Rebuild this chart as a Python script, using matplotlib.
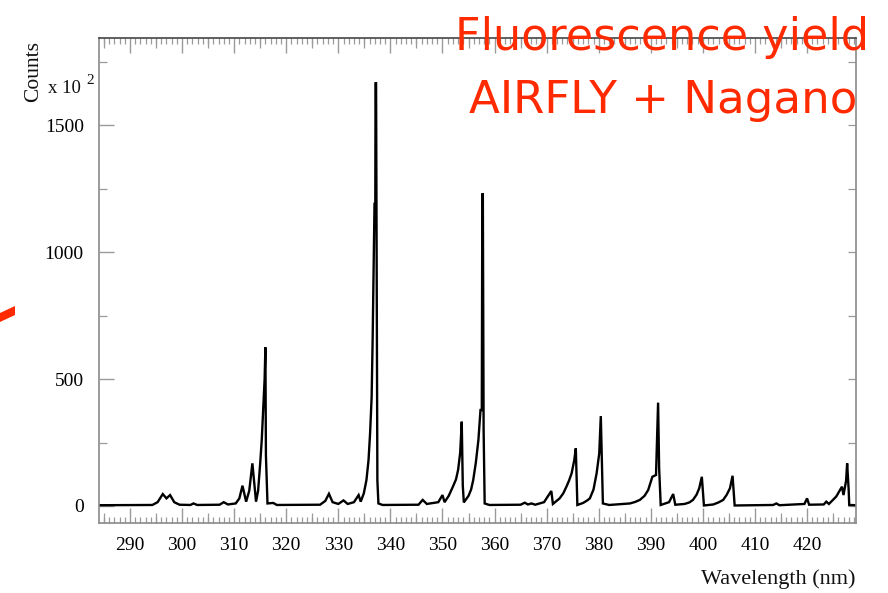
import matplotlib
matplotlib.use("Agg")
import matplotlib.pyplot as plt
from matplotlib.ticker import MultipleLocator, FixedLocator
from matplotlib.patches import Polygon

# Nitrogen fluorescence spectrum (counts in units of 100)
wavelength_nm = [
    284.0, 294.3, 295.3, 296.3, 297.0, 297.7, 298.5, 299.5, 301.6, 302.2, 302.9,
    307.2, 308.0, 308.8, 310.3, 311.0, 311.6, 312.3, 312.9, 313.5, 314.2, 314.6,
    315.0, 315.3, 315.6, 315.85, 316.0, 316.1, 316.4, 317.5, 318.2,
    326.5, 327.5, 328.2, 328.9, 330.0, 331.0, 331.8, 333.0, 333.9, 334.3, 334.9,
    335.4, 335.8, 336.1, 336.4, 336.6, 336.95, 337.1, 337.15, 337.25, 337.5, 337.7, 338.5,
    345.4, 346.2, 347.0, 349.2, 350.0, 350.4, 351.2, 352.0, 352.6, 353.0, 353.4, 353.7,
    353.9, 354.1, 355.0, 355.5, 355.9, 356.4, 356.9, 357.3, 357.55, 357.65, 357.75,
    357.9, 358.1, 359.0,
    365.0, 365.8, 366.4, 367.1, 367.8, 369.5, 370.9, 371.2, 372.5, 373.2, 373.8, 374.3,
    374.8, 375.3, 375.6, 375.9, 377.0, 377.8, 378.3, 379.0, 379.6, 380.1, 380.4, 380.8, 382.0,
    386.0, 387.0, 387.9, 388.8, 389.5, 390.0, 390.3, 391.0, 391.4, 391.6, 391.9,
    393.5, 394.3, 394.7,
    396.5, 397.4, 398.1, 398.8, 399.3, 399.8, 400.2,
    402.0, 403.0, 403.9, 404.6, 405.2, 405.7, 406.1,
    413.5, 414.1, 414.7, 419.5, 420.0, 420.4, 423.2, 423.7, 424.2, 425.6, 426.7,
    427.0, 427.5, 427.7, 428.0, 428.1, 429.4,
]
counts_x100 = [
    3, 4, 15, 47, 30, 43, 15, 5, 4, 10, 4,
    5, 15, 6, 10, 30, 80, 17, 60, 168, 17, 60,
    168, 260, 391, 500, 625, 200, 10, 12, 4,
    5, 20, 48, 15, 8, 22, 8, 15, 43, 17, 50,
    102, 180, 286, 430, 667, 1190, 1190, 1665, 1665, 100, 10, 4,
    5, 24, 8, 15, 43, 15, 40, 76, 105, 142, 210, 332,
    80, 14, 40, 65, 102, 170, 260, 378, 378, 1228, 1228,
    300, 10, 4,
    5, 13, 6, 10, 5, 15, 59, 8, 30, 50, 76, 100,
    129, 180, 227, 4, 12, 22, 30, 65, 129, 207, 354, 10, 4,
    10, 16, 24, 40, 63, 95, 115, 122, 407, 150, 4,
    15, 47, 5,
    8, 14, 24, 45, 70, 115, 2,
    6, 14, 24, 45, 70, 119, 2,
    4, 10, 3, 8, 30, 5, 6, 17, 8, 37, 76,
    43, 100, 168, 60, 4, 3,
]

x_major = list(range(290, 430, 10))
y_major = [0, 500, 1000, 1500]
y_minor = [250, 750, 1250, 1750]

title_lines = ["Fluorescence yield", "AIRFLY + Nagano"]
red = "#ff2a00"
serif = ["Liberation Serif", "DejaVu Serif"]

W, H = 888, 593
fig = plt.figure(figsize=(W / 100, H / 100), dpi=100)
fig.patch.set_facecolor("white")

ax_l, ax_r, ax_t, ax_b = 99, 856, 38, 523
ax = fig.add_axes([ax_l / W, 1 - ax_b / H, (ax_r - ax_l) / W, (ax_b - ax_t) / H])

ax.plot(wavelength_nm, counts_x100, color="black", lw=1.7, solid_joinstyle="miter")
ax.set_xlim(284.05, 429.4)
ax.set_ylim(-67, 1843)

for side in ["left", "bottom", "right"]:
    ax.spines[side].set_color("#8a8a8a")
    ax.spines[side].set_linewidth(1.2)
ax.spines["top"].set_color("#444444")
ax.spines["top"].set_linewidth(1.2)

# x ticks: majors every 10 nm, mid ticks at 5 nm, minors every 1 nm
ax.xaxis.set_major_locator(FixedLocator(x_major))
ax.xaxis.set_minor_locator(MultipleLocator(1))
ax.tick_params(axis="x", which="major", direction="in", length=11, width=1.0,
               color="#9a9a9a", top=True, bottom=True, pad=10,
               labelsize=14)
ax.tick_params(axis="x", which="minor", direction="in", length=4.5, width=0.9,
               color="#9a9a9a", top=True, bottom=True)
for lbl in ax.get_xticklabels():
    lbl.set_fontfamily(serif)

mid_ticks = [v + 5 for v in x_major if v + 5 < 429.4] + [285]
mid = ax.secondary_xaxis("bottom")
mid.set_xticks(mid_ticks)
mid.tick_params(direction="in", length=7, width=0.9, color="#9a9a9a", labelbottom=False)
mid.spines["bottom"].set_visible(False)
midt = ax.secondary_xaxis("top")
midt.set_xticks(mid_ticks)
midt.tick_params(direction="in", length=7, width=0.9, color="#9a9a9a", labeltop=False)
midt.spines["top"].set_visible(False)

# y ticks
ax.yaxis.set_major_locator(FixedLocator(y_major))
ax.yaxis.set_minor_locator(FixedLocator(y_minor))
ax.tick_params(axis="y", which="major", direction="in", length=11, width=1.0,
               color="#9a9a9a", left=True, right=False, pad=11, labelsize=14)
ax.tick_params(axis="y", which="minor", direction="in", length=5.5, width=0.9,
               color="#9a9a9a", left=True, right=False)
for lbl in ax.get_yticklabels():
    lbl.set_fontfamily(serif)

ry = ax.secondary_yaxis("right")
ry.set_yticks(y_major + y_minor)
ry.tick_params(direction="in", length=6, width=0.9, color="#9a9a9a", labelright=False)
ry.spines["right"].set_visible(False)

# axis titles
fig.text(34 / W, 1 - 71 / H, "Counts", rotation=90, ha="center", va="center",
         fontsize=15.5, family=serif, color="#111111")
fig.text(48 / W, 1 - 93 / H, "x 10", ha="left", va="baseline",
         fontsize=13.5, family=serif, color="#111111")
fig.text(86 / W, 1 - 84 / H, "2", ha="left", va="baseline",
         fontsize=11, family=serif, color="#111111")
fig.text(855 / W, 1 - 584 / H, "Wavelength (nm)", ha="right", va="baseline",
         fontsize=16, family=serif, color="#111111")

# red annotation
fig.text(662 / W, 1 - 50 / H, title_lines[0], ha="center", va="baseline",
         fontsize=32, color=red, family="DejaVu Sans")
fig.text(663 / W, 1 - 113 / H, title_lines[1], ha="center", va="baseline",
         fontsize=32.5, color=red, family="DejaVu Sans")

# red stroke at the left edge
stroke = [(0, 313), (15, 306), (15, 315), (0, 322)]
fig.patches.append(Polygon([(x / W, 1 - y / H) for x, y in stroke], closed=True,
                           transform=fig.transFigure, facecolor=red, edgecolor="none"))

fig.savefig("out.png", dpi=100)
